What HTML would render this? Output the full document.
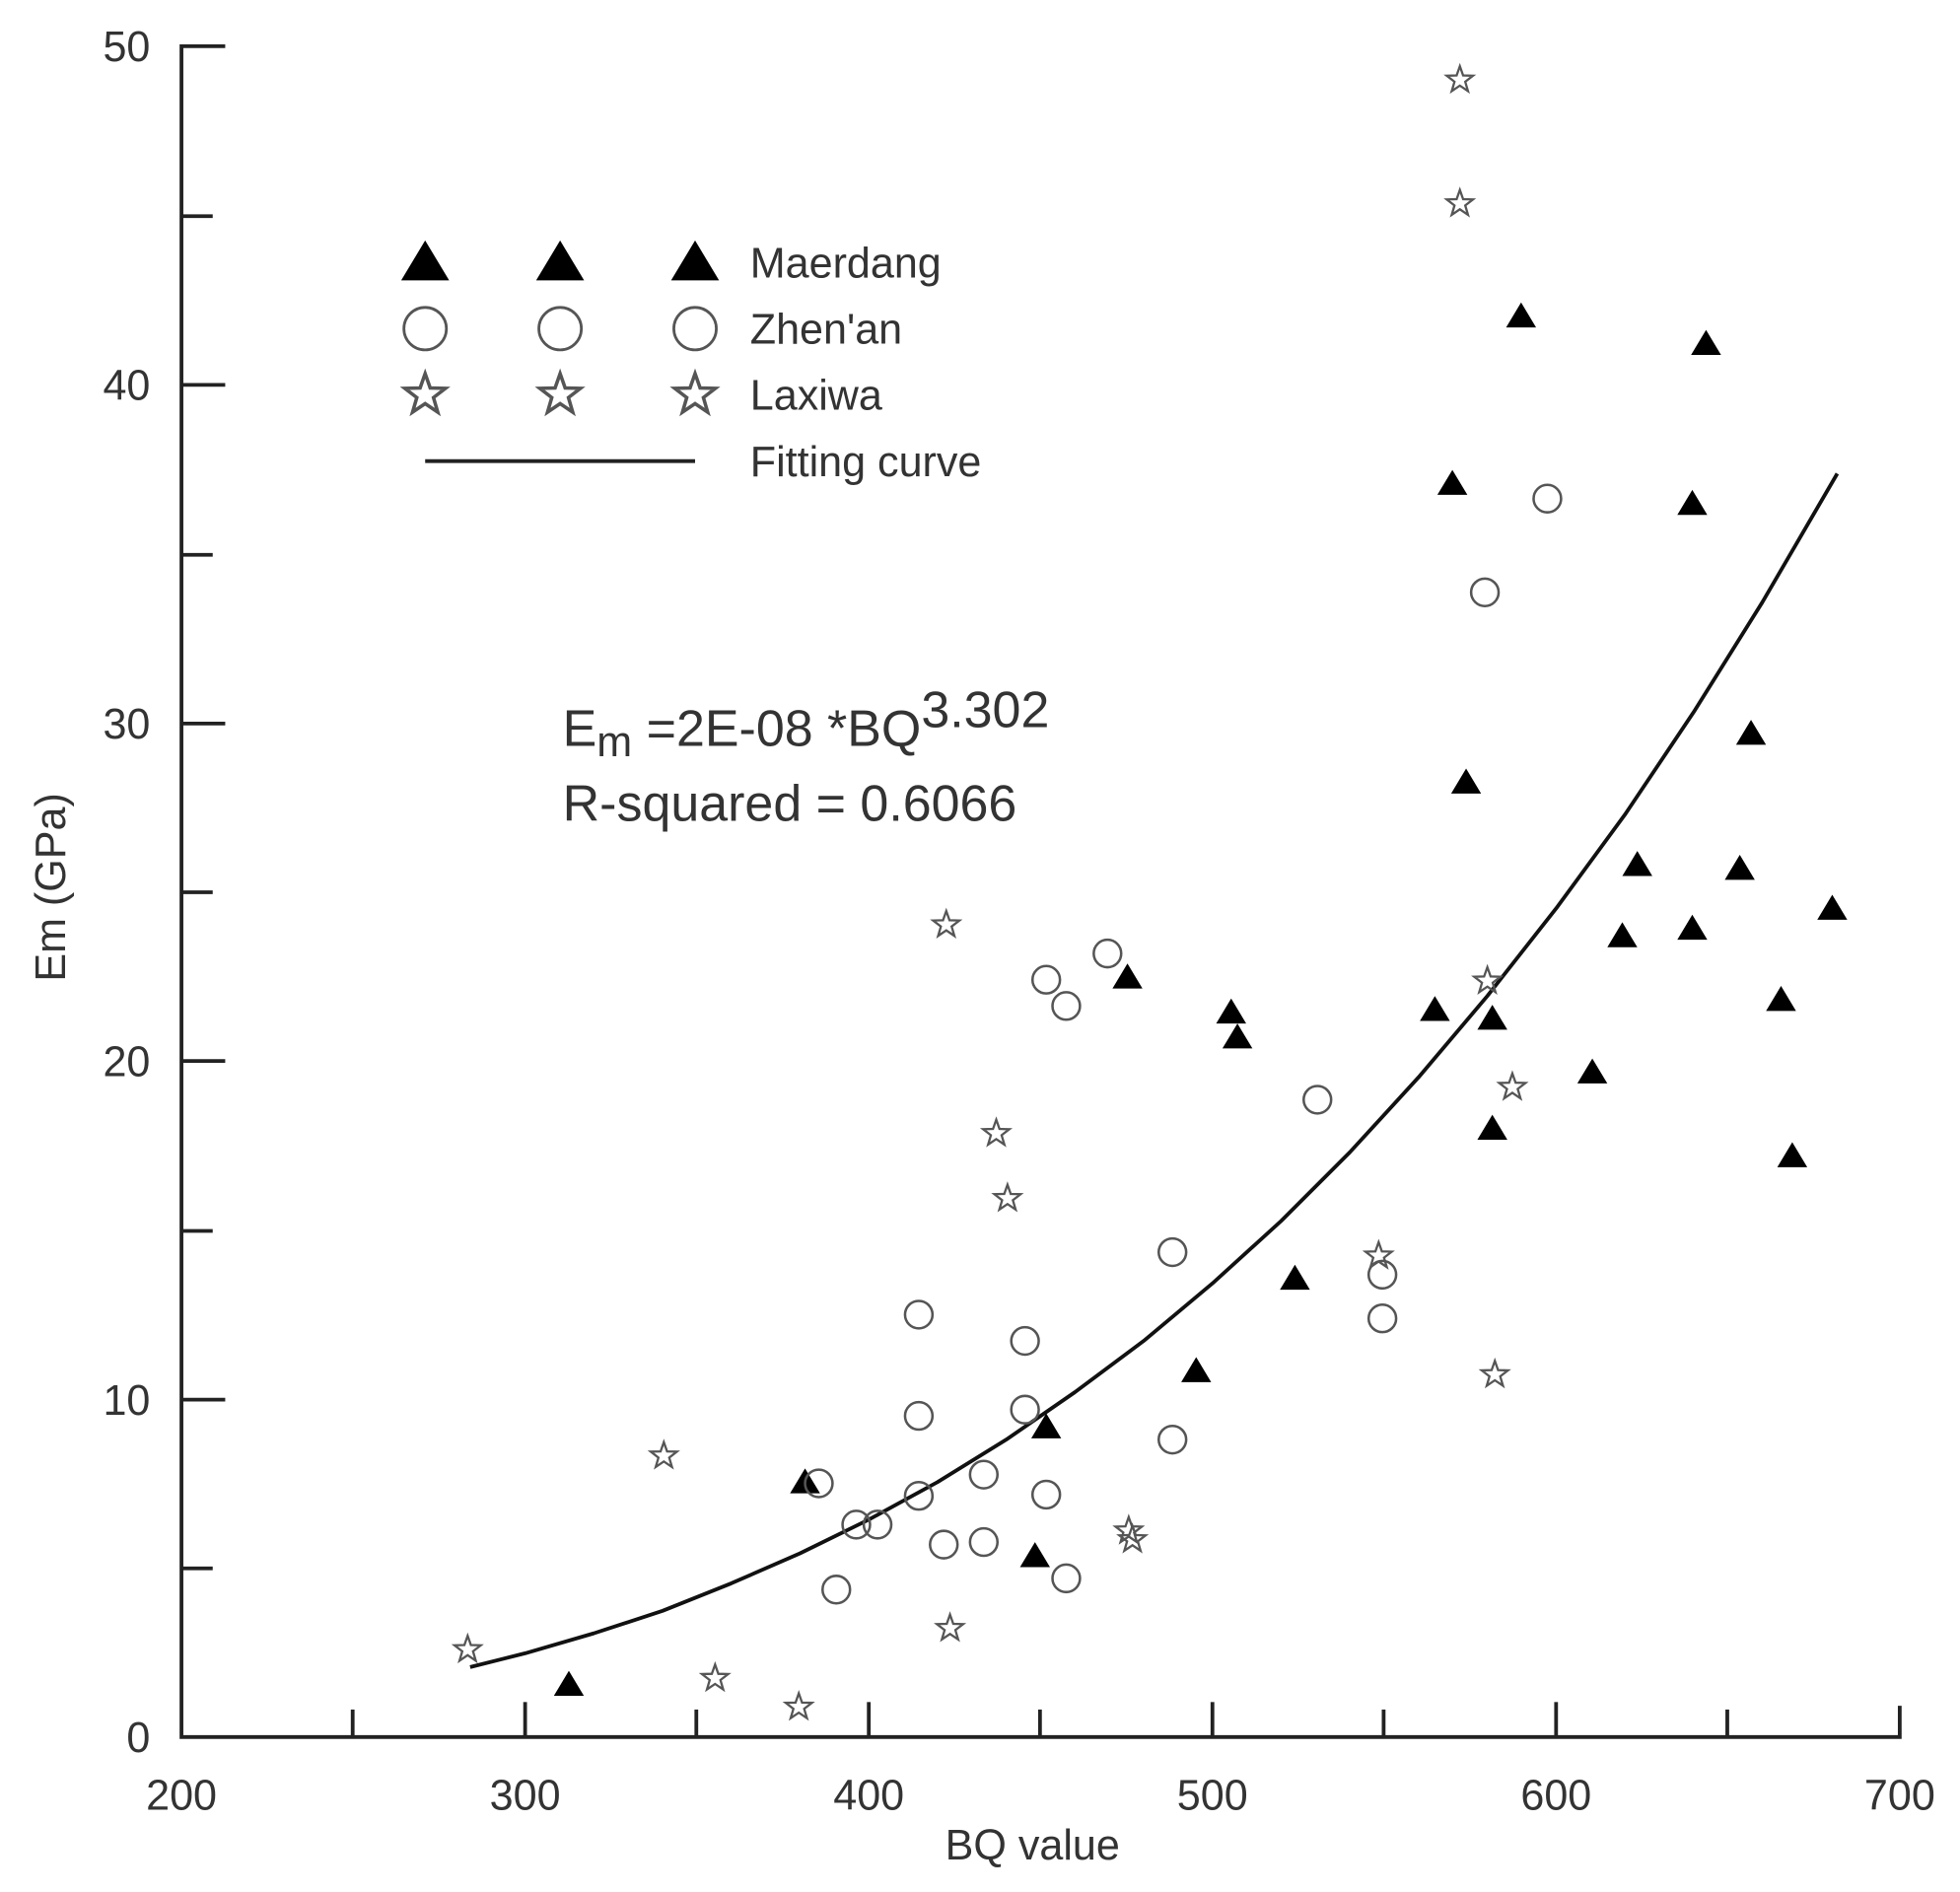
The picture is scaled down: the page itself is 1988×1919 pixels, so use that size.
<!DOCTYPE html>
<html><head><meta charset="utf-8"><style>
html,body{margin:0;padding:0;background:#fff;}
svg{display:block;}
text{font-family:"Liberation Sans",Arial,sans-serif;fill:#333;}
</style></head><body>
<svg width="1988" height="1919" viewBox="0 0 1568 1514" xmlns="http://www.w3.org/2000/svg">
<defs>
<polygon id="tri" points="0,-11 12,9 -12,9" fill="#000"/>
<circle id="cir" r="11" fill="none" stroke="#555" stroke-width="2"/>
<polygon id="star" points="0,-11 2.6,-3.6 10.5,-3.4 4.3,1.4 6.5,8.9 0,4.5 -6.5,8.9 -4.3,1.4 -10.5,-3.4 -2.6,-3.6" fill="none" stroke="#555" stroke-width="1.8"/>
</defs>
<g stroke="#222" stroke-width="3" fill="none">
<polyline points="180,37 145,37 145,1390 1520,1390 1520,1365"/>
<line x1="145" y1="173" x2="170" y2="173"/>
<line x1="145" y1="308" x2="180" y2="308"/>
<line x1="145" y1="444" x2="170" y2="444"/>
<line x1="145" y1="579" x2="180" y2="579"/>
<line x1="145" y1="714" x2="170" y2="714"/>
<line x1="145" y1="849" x2="180" y2="849"/>
<line x1="145" y1="985" x2="170" y2="985"/>
<line x1="145" y1="1120" x2="180" y2="1120"/>
<line x1="145" y1="1255" x2="170" y2="1255"/>
<line x1="282" y1="1390" x2="282" y2="1368"/>
<line x1="420" y1="1390" x2="420" y2="1362"/>
<line x1="557" y1="1390" x2="557" y2="1368"/>
<line x1="695" y1="1390" x2="695" y2="1362"/>
<line x1="832" y1="1390" x2="832" y2="1368"/>
<line x1="970" y1="1390" x2="970" y2="1362"/>
<line x1="1107" y1="1390" x2="1107" y2="1368"/>
<line x1="1245" y1="1390" x2="1245" y2="1362"/>
<line x1="1382" y1="1390" x2="1382" y2="1368"/>
</g>
<g font-size="34" text-anchor="end">
<text x="120" y="49">50</text><text x="120" y="320">40</text><text x="120" y="591">30</text>
<text x="120" y="861">20</text><text x="120" y="1132">10</text><text x="120" y="1402">0</text>
</g>
<g font-size="34" text-anchor="middle">
<text x="145" y="1448">200</text><text x="420" y="1448">300</text><text x="695" y="1448">400</text>
<text x="970" y="1448">500</text><text x="1245" y="1448">600</text><text x="1520" y="1448">700</text>
<text x="826" y="1488">BQ value</text>
<text transform="translate(52,710) rotate(-90)">Em (GPa)</text>
</g>
<g transform="translate(340,210) scale(1.6)"><use href="#tri"/></g>
<g transform="translate(448,210) scale(1.6)"><use href="#tri"/></g>
<g transform="translate(556,210) scale(1.6)"><use href="#tri"/></g>
<circle cx="340" cy="263" r="17" fill="none" stroke="#555" stroke-width="2.2"/>
<circle cx="448" cy="263" r="17" fill="none" stroke="#555" stroke-width="2.2"/>
<circle cx="556" cy="263" r="17" fill="none" stroke="#555" stroke-width="2.2"/>
<g transform="translate(340,316) scale(1.55)"><use href="#star"/></g>
<g transform="translate(448,316) scale(1.55)"><use href="#star"/></g>
<g transform="translate(556,316) scale(1.55)"><use href="#star"/></g>
<line x1="340" y1="369" x2="556" y2="369" stroke="#222" stroke-width="3"/>
<g font-size="34">
<text x="600" y="222">Maerdang</text><text x="600" y="275">Zhen'an</text>
<text x="600" y="328">Laxiwa</text><text x="600" y="381">Fitting curve</text>
</g>
<g font-size="41">
<text x="450" y="597">E<tspan font-size="34" dy="8">m</tspan><tspan dy="-8"> =2E-08 *BQ</tspan><tspan dy="-15">3.302</tspan></text>
<text x="450" y="657">R-squared = 0.6066</text>
</g>
<polyline points="376,1334 420,1323 475,1307 530,1289 585,1267 640,1243 695,1216 750,1186 805,1152 860,1114 915,1073 970,1027 1025,977 1080,922 1135,862 1190,797 1245,727 1300,652 1355,570 1410,482 1470,379" fill="none" stroke="#111" stroke-width="3" stroke-linejoin="round"/>
<g>
<use href="#tri" x="1217" y="253"/><use href="#tri" x="1365" y="275"/><use href="#tri" x="1162" y="387"/>
<use href="#tri" x="1354" y="403"/><use href="#tri" x="1173" y="626"/><use href="#tri" x="1401" y="587"/>
<use href="#tri" x="1310" y="692"/><use href="#tri" x="1392" y="695"/><use href="#tri" x="1298" y="749"/>
<use href="#tri" x="1354" y="743"/><use href="#tri" x="1466" y="727"/><use href="#tri" x="902" y="782"/>
<use href="#tri" x="985" y="810"/><use href="#tri" x="990" y="830"/><use href="#tri" x="1148" y="808"/>
<use href="#tri" x="1194" y="815"/><use href="#tri" x="1425" y="800"/><use href="#tri" x="1274" y="858"/>
<use href="#tri" x="1194" y="903"/><use href="#tri" x="1434" y="925"/><use href="#tri" x="1036" y="1023"/>
<use href="#tri" x="957" y="1097"/><use href="#tri" x="837" y="1142"/><use href="#tri" x="644" y="1186"/>
<use href="#tri" x="828" y="1245"/><use href="#tri" x="455" y="1348"/>
</g>
<g>
<use href="#cir" x="1238" y="399"/><use href="#cir" x="1188" y="474"/><use href="#cir" x="886" y="763"/>
<use href="#cir" x="837" y="784"/><use href="#cir" x="853" y="805"/><use href="#cir" x="1054" y="880"/>
<use href="#cir" x="938" y="1002"/><use href="#cir" x="1106" y="1020"/><use href="#cir" x="1106" y="1055"/>
<use href="#cir" x="735" y="1052"/><use href="#cir" x="820" y="1073"/><use href="#cir" x="735" y="1133"/>
<use href="#cir" x="820" y="1128"/><use href="#cir" x="938" y="1152"/><use href="#cir" x="655" y="1187"/>
<use href="#cir" x="787" y="1180"/><use href="#cir" x="735" y="1197"/><use href="#cir" x="837" y="1196"/>
<use href="#cir" x="685" y="1220"/><use href="#cir" x="702" y="1220"/><use href="#cir" x="755" y="1236"/>
<use href="#cir" x="787" y="1234"/><use href="#cir" x="669" y="1272"/><use href="#cir" x="853" y="1263"/>
</g>
<g>
<use href="#star" x="1168" y="64"/><use href="#star" x="1168" y="163"/><use href="#star" x="757" y="740"/>
<use href="#star" x="1190" y="785"/><use href="#star" x="1210" y="870"/><use href="#star" x="797" y="907"/>
<use href="#star" x="806" y="959"/><use href="#star" x="1103" y="1005"/><use href="#star" x="1196" y="1100"/>
<use href="#star" x="531" y="1165"/><use href="#star" x="903" y="1225"/><use href="#star" x="906" y="1232"/>
<use href="#star" x="760" y="1303"/><use href="#star" x="374" y="1320"/><use href="#star" x="572" y="1343"/>
<use href="#star" x="639" y="1366"/>
</g>
</svg>
</body></html>
